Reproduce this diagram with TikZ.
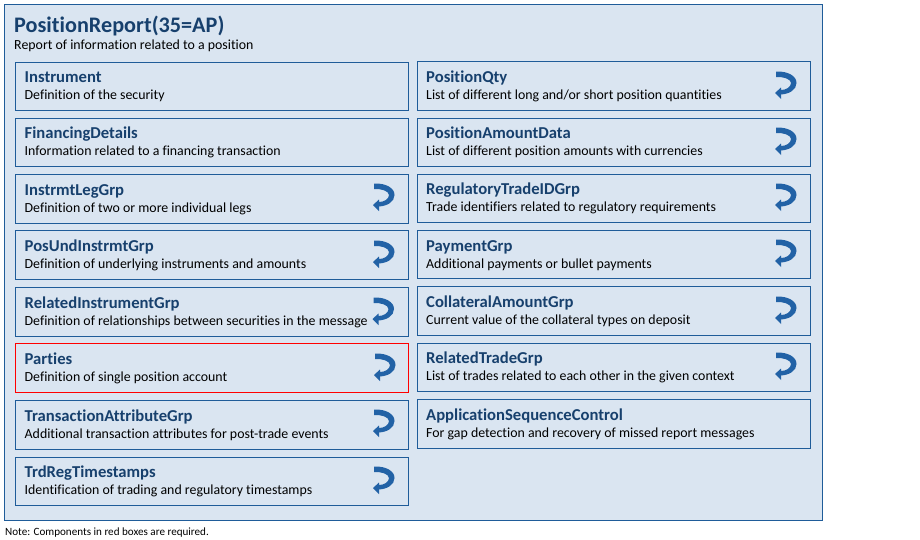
\documentclass[tikz,border=0pt]{standalone}
\usepackage{fontspec}
\setmainfont[Ligatures=NoCommon]{Carlito}
\definecolor{panelfill}{HTML}{DAE5F1}
\definecolor{boxline}{HTML}{1F5C99}
\definecolor{titleblue}{HTML}{17406D}
\definecolor{arrowblue}{HTML}{2262A6}
\tikzset{
  x=1pt,y=-1pt,
  panel/.style={draw=boxline,fill=panelfill,line width=1pt},
  compbox/.style={draw=boxline,line width=1pt},
  reqbox/.style={draw=red,line width=1pt},
  headtext/.style={anchor=base west,inner sep=0pt,text=titleblue,font=\fontsize{16.65}{18}\selectfont\bfseries},
  desctext/.style={anchor=base west,inner sep=0pt,text=black,font=\fontsize{13.88}{15}\selectfont},
  pics/backarrow/.style={code={
    \fill[arrowblue] (-10,-13.5) .. controls (2,-14) and (10.5,-9) .. (10.5,-2)
      .. controls (10.5,5) and (3,9) .. (-5,9.5)
      -- (-5,14) -- (-11,8) -- (-5,2.5) -- (-5,5)
      .. controls (0,5) and (5,2) .. (5,-2)
      .. controls (5,-6) and (-3,-8.5) .. (-10,-8) -- cycle;
  }}
}
\newcommand{\comp}[9][0]{%
  \draw[#2] (#4,#5) rectangle (#6,#7);
  \node[headtext] (#3h) at (#4+9,#5+20.5+#1) {#8};
  \node[desctext] (#3d) at (#4+9,#5+37.5+#1) {#9};
}
\begin{document}
\begin{tikzpicture}
\useasboundingbox (0,0) rectangle (920,539);
\path[panel] (4.5,4.5) rectangle (822.5,520.5);
\node[anchor=base west,inner sep=0pt,text=titleblue,font=\fontsize{22.2}{24}\selectfont\bfseries] (title) at (14,32) {PositionReport(35=AP)};
\node[desctext] (sub) at (14,49) {Report of information related to a position};
\comp[-1]{compbox}{a}{15.5}{62.5}{408}{110.5}{Instrument}{Definition of the security}
\comp[-1]{compbox}{b}{15.5}{118.5}{408}{166.5}{FinancingDetails}{Information related to a financing transaction}
\comp{compbox}{c}{15.5}{174.5}{408}{223}{InstrmtLegGrp}{Definition of two or more individual legs}
\comp{compbox}{d}{15.5}{230.5}{408}{279.5}{PosUndInstrmtGrp}{Definition of underlying instruments and amounts}
\comp{compbox}{e}{15.5}{287.5}{408}{336.5}{RelatedInstrumentGrp}{Definition of relationships between securities in the message}
\comp{reqbox}{f}{15.5}{343.5}{408.5}{392.5}{Parties}{Definition of single position account}
\comp{compbox}{g}{15.5}{400.5}{408.5}{449}{TransactionAttributeGrp}{Additional transaction attributes for post-trade events}
\comp{compbox}{h}{15.5}{457}{408.5}{505.5}{TrdRegTimestamps}{Identification of trading and regulatory timestamps}
\comp{compbox}{p}{417}{61.5}{810.5}{110}{PositionQty}{List of different long and/or short position quantities}
\comp{compbox}{q}{417}{118}{810.5}{166}{PositionAmountData}{List of different position amounts with currencies}
\comp{compbox}{r}{417}{174}{810.5}{222.5}{RegulatoryTradeIDGrp}{Trade identifiers related to regulatory requirements}
\comp{compbox}{s}{417}{230.5}{810.5}{278.5}{PaymentGrp}{Additional payments or bullet payments}
\comp{compbox}{t}{417}{286.5}{810.5}{335}{CollateralAmountGrp}{Current value of the collateral types on deposit}
\comp{compbox}{u}{417}{343}{810.5}{391.5}{RelatedTradeGrp}{List of trades related to each other in the given context}
\comp{compbox}{v}{417}{399.5}{810.5}{448}{ApplicationSequenceControl}{For gap detection and recovery of missed report messages}
\foreach \px/\py in {384/197,384/254,383.5/311,385/367,384/423,384/480,786/85,786/141,786/197,786/253,786/310,786/366}
  \pic at (\px,\py) {backarrow};
\node[anchor=base west,inner sep=0pt,text=black,font=\fontsize{11.1}{12}\selectfont] (note) at (5,535) {Note: Components in red boxes are required.};
\end{tikzpicture}
\end{document}
